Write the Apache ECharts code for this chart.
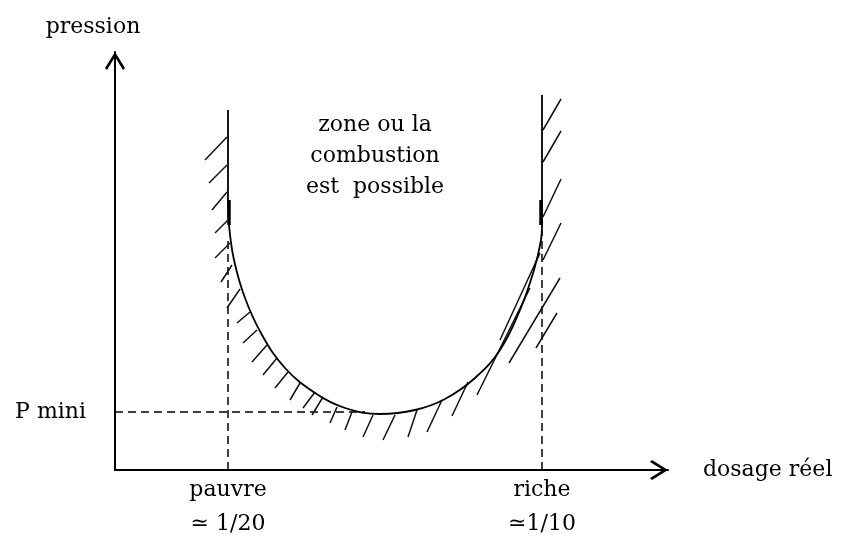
<!DOCTYPE html>
<html>
<head>
<meta charset="utf-8">
<script src="https://cdn.jsdelivr.net/npm/echarts@6/dist/echarts.min.js"></script>
<style>
  html, body { margin: 0; padding: 0; background: #fff; }
  #main { width: 841px; height: 541px; }
</style>
</head>
<body>
<div id="main"></div>
<script>
// axis units: dosage (x) and pression (y), arbitrary schematic units
const xMax = 55.3;
const yMax = 41.8;

// limit curve: lean branch (vertical), U bottom, rich branch (vertical)
const curveX = [11.3, 11.3, 11.4, 11.9, 13.0, 14.7, 17.0, 20.0, 23.0, 26.5,
  30.0, 33.0, 36.0, 38.5, 40.5, 41.9, 42.6, 42.7, 42.7, 42.7];
const curveY = [36.0, 27.0, 24.5, 21.0, 17.2, 13.5, 10.2, 7.7, 6.2, 5.6,
  6.0, 7.1, 9.2, 12.0, 16.0, 20.0, 23.0, 24.5, 27.0, 37.5];

// short thick pieces on both branches
const thickX = [11.4, 42.6];
const thickY0 = [24.5, 24.5];
const thickY1 = [27.0, 27.0];

// hatching strokes (start on the curve, end outside the zone)
const hatchStart = [
  [11.2, 33.3], [11.2, 30.5], [11.2, 27.8], [11.3, 25.0], [11.5, 22.7], [11.7, 20.5], [12.5, 18.1],
  [13.5, 15.8], [14.2, 14.0], [15.2, 12.5], [16.2, 11.2], [17.3, 9.8], [18.5, 8.7], [20.0, 7.8],
  [20.8, 7.3], [22.2, 6.3], [23.7, 5.8], [25.8, 5.5], [28.0, 5.5], [30.2, 6.0], [32.7, 7.0],
  [35.3, 8.8], [41.5, 18.2], [42.5, 21.7], [44.5, 19.2], [44.2, 15.7],
  [42.8, 34.0], [42.8, 30.8], [42.8, 25.3], [42.8, 21.0]
];
const hatchEnd = [
  [9.0, 31.0], [9.4, 28.7], [9.7, 26.0], [10.0, 23.7], [10.0, 21.2], [10.6, 18.8], [11.2, 16.2],
  [12.2, 14.7], [12.8, 12.7], [13.7, 10.8], [14.8, 9.5], [16.0, 8.2], [17.5, 7.0], [18.8, 6.2],
  [19.7, 5.5], [21.5, 4.7], [23.0, 4.0], [24.8, 3.3], [26.8, 3.0], [29.3, 3.3], [31.2, 3.8],
  [33.7, 5.4], [36.2, 7.5], [38.5, 13.0], [39.4, 10.7], [42.1, 12.2],
  [44.6, 37.1], [44.6, 33.9], [44.6, 29.1], [44.6, 24.7]
];

// tick labels
const xTickValues = [11.3, 42.7];
const xTickLabels = ['pauvre\n≃ 1/20', 'riche\n≃1/10'];
const yTickValues = [5.8];
const yTickLabels = ['P mini'];

// dashed guides: top of each vertical guide, end of the P mini guide
const guideTop = [23.0, 24.0];
const pMiniEnd = 25.0;

const zoneText = 'zone ou la\ncombustion\nest  possible';

const FONT = '"DejaVu Serif", serif';
const arrowPath = 'path://M10,0 L20,16 L18,18 L10,5 L2,18 L0,16 Z';

const chart = echarts.init(document.getElementById('main'));

const hatchData = hatchStart.map(function (p, i) {
  return { coords: [p, hatchEnd[i]] };
});
const thickData = thickX.map(function (x, i) {
  return { coords: [[x, thickY0[i]], [x, thickY1[i]]] };
});
const guideData = xTickValues.map(function (x, i) {
  return { coords: [[x, 0], [x, guideTop[i]]] };
});
guideData.push({ coords: [[0, yTickValues[0]], [pMiniEnd, yTickValues[0]]] });

const axisLineStyle = {
  show: true,
  symbol: ['none', arrowPath],
  symbolSize: [20, 18],
  symbolOffset: [0, -9],
  lineStyle: { color: '#000', width: 2 }
};

var option = {
  animation: false,
  backgroundColor: '#fff',
  grid: { left: 115, right: 173, top: 52, bottom: 71 },
  xAxis: {
    type: 'value',
    min: 0,
    max: xMax,
    name: 'dosage réel',
    nameLocation: 'end',
    nameGap: 35,
    nameTextStyle: { fontFamily: FONT, fontSize: 22, color: '#000', padding: [0, 0, 10, 0] },
    axisLine: axisLineStyle,
    axisTick: { show: false },
    splitLine: { show: false },
    axisLabel: {
      customValues: xTickValues,
      margin: 3,
      fontFamily: FONT,
      fontSize: 22,
      lineHeight: 34,
      color: '#000',
      formatter: function (v) {
        const i = xTickValues.indexOf(v);
        return i >= 0 ? xTickLabels[i] : '';
      }
    }
  },
  yAxis: {
    type: 'value',
    min: 0,
    max: yMax,
    name: 'pression',
    nameLocation: 'end',
    nameGap: 14,
    nameTextStyle: { fontFamily: FONT, fontSize: 22, color: '#000', padding: [0, 44, 0, 0] },
    axisLine: axisLineStyle,
    axisTick: { show: false },
    splitLine: { show: false },
    axisLabel: {
      customValues: yTickValues,
      margin: 29,
      fontFamily: FONT,
      fontSize: 22,
      color: '#000',
      formatter: function (v) {
        const i = yTickValues.indexOf(v);
        return i >= 0 ? yTickLabels[i] : '';
      }
    }
  },
  graphic: [{
    type: 'text',
    style: {
      x: 375,
      y: 110,
      text: zoneText,
      textAlign: 'center',
      textVerticalAlign: 'top',
      font: '22px ' + FONT,
      lineHeight: 31,
      fill: '#000'
    }
  }],
  series: [
    {
      type: 'lines',
      coordinateSystem: 'cartesian2d',
      silent: true,
      lineStyle: { color: '#000', width: 1.5, opacity: 1, type: [8, 5] },
      data: guideData
    },
    {
      type: 'line',
      silent: true,
      showSymbol: false,
      smooth: 0.4,
      lineStyle: { color: '#000', width: 1.8 },
      data: curveX.map(function (x, i) { return [x, curveY[i]]; })
    },
    {
      type: 'lines',
      coordinateSystem: 'cartesian2d',
      silent: true,
      lineStyle: { color: '#000', width: 3.5, opacity: 1 },
      data: thickData
    },
    {
      type: 'lines',
      coordinateSystem: 'cartesian2d',
      silent: true,
      lineStyle: { color: '#111', width: 1.5, opacity: 1 },
      data: hatchData
    }
  ]
};

chart.setOption(option);
</script>
</body>
</html>
